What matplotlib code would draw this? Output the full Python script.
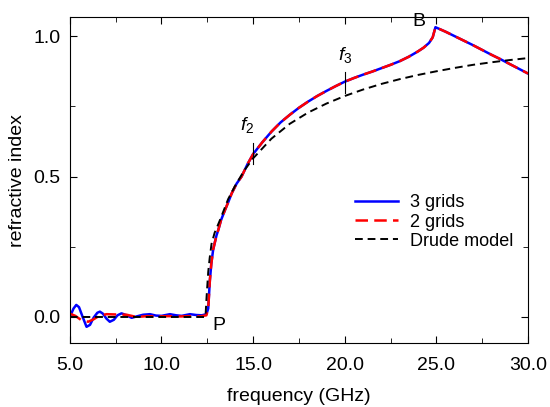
import matplotlib
matplotlib.use("Agg")
import matplotlib.pyplot as plt
from matplotlib.ticker import MultipleLocator, FormatStrFormatter

plt.rcParams['font.family'] = ['Liberation Sans', 'DejaVu Sans']
plt.rcParams['mathtext.fontset'] = 'custom'
plt.rcParams['mathtext.it'] = 'Liberation Sans:italic'
plt.rcParams['mathtext.rm'] = 'Liberation Sans'

# below-cutoff ripple, 3 grids
f_low3 = [5.0, 5.2, 5.35, 5.5, 5.7, 5.91, 6.1, 6.3, 6.5, 6.64, 6.8, 7.0, 7.18,
          7.4, 7.6, 7.82, 8.1, 8.37, 8.7, 9.0, 9.37, 9.7, 10.0, 10.46, 10.8,
          11.1, 11.55, 11.9, 12.2, 12.45]
n_low3 = [0.0, 0.03, 0.043, 0.035, 0.0, -0.035, -0.028, -0.002, 0.015, 0.019,
          0.012, -0.006, -0.017, -0.01, 0.006, 0.013, 0.006, -0.003, 0.003,
          0.008, 0.01, 0.005, 0.004, 0.01, 0.006, 0.004, 0.01, 0.007, 0.006,
          0.01]

# below-cutoff ripple, 2 grids
f_low2 = [5.0, 5.3, 5.6, 6.0, 6.3, 6.6, 7.0, 7.5, 8.1, 8.64, 9.2, 9.8, 10.4,
          11.0, 11.6, 12.1, 12.45]
n_low2 = [0.012, 0.004, -0.01, -0.017, -0.008, 0.004, 0.01, 0.009, 0.008,
          0.0, 0.003, 0.002, 0.003, 0.002, 0.003, 0.002, 0.006]

# above cutoff (both meshes agree)
f_high = [12.55, 12.64, 12.72, 12.82, 13.0, 13.1, 13.25, 13.46, 13.65, 13.83,
          14.1, 14.37, 14.7, 15.0, 15.5, 16.0, 16.5, 17.0, 17.5, 18.0, 18.5,
          19.0, 19.5, 20.0, 20.5, 21.0, 21.5, 22.0, 22.5, 23.0, 23.5, 24.0,
          24.3, 24.6, 24.8, 24.95, 25.5, 26.0, 26.5, 27.0, 27.5, 28.0, 28.5,
          29.0, 29.5, 30.0]
n_high = [0.03, 0.13, 0.19, 0.24, 0.29, 0.31, 0.345, 0.38, 0.41, 0.44, 0.475,
          0.50, 0.545, 0.58, 0.622, 0.66, 0.693, 0.72, 0.745, 0.767, 0.787,
          0.805, 0.822, 0.838, 0.851, 0.863, 0.874, 0.886, 0.898, 0.911, 0.927,
          0.946, 0.959, 0.976, 0.996, 1.032, 1.016, 1.0, 0.984, 0.968, 0.951,
          0.934, 0.918, 0.901, 0.884, 0.867]

# Drude model
f_drude = [5.0, 8.0, 10.0, 12.4, 12.46, 12.55, 12.63, 12.73, 12.9, 13.0, 13.19,
           13.4, 13.64, 14.0, 14.5, 15.0, 16.0, 17.0, 18.0, 19.0, 20.0, 21.0,
           22.0, 23.0, 24.0, 25.0, 26.0, 27.0, 28.0, 29.0, 30.0]
n_drude = [0.0, 0.0, 0.0, 0.0, 0.07, 0.16, 0.21, 0.26, 0.30, 0.315, 0.345,
           0.38, 0.42, 0.465, 0.52, 0.565, 0.635, 0.688, 0.728, 0.76, 0.787,
           0.81, 0.83, 0.847, 0.862, 0.875, 0.887, 0.898, 0.907, 0.915, 0.922]

fig = plt.figure(figsize=(5.5, 4.07), dpi=100)
ax = fig.add_axes([0.127, 0.157, 0.833, 0.801])

ax.plot(f_low3 + f_high, n_low3 + n_high, color='#0000ff', lw=1.8, label='3 grids')
ax.plot(f_low2 + f_high, n_low2 + n_high, color='#ff0000', lw=1.8,
        dashes=(5, 2.5), label='2 grids')
ax.plot(f_drude, n_drude, color='black', lw=1.4, dashes=(4, 2.5),
        label='Drude model')

# markers for f2 and f3
for fm, nm in [(15.0, 0.585), (20.0, 0.838)]:
    ax.plot([fm, fm], [nm - 0.04, nm + 0.035], color='black', lw=0.8)
ax.text(14.7, 0.665, r'$f_2$', fontsize=14, ha='center')
ax.text(20.0, 0.915, r'$f_3$', fontsize=14, ha='center')
ax.text(12.75, -0.045, 'P', fontsize=14)
ax.text(23.7, 1.035, 'B', fontsize=14)

ax.set_xlim(5.0, 30.0)
ax.set_ylim(-0.093, 1.068)
ax.xaxis.set_major_locator(MultipleLocator(5))
ax.xaxis.set_minor_locator(MultipleLocator(2.5))
ax.yaxis.set_major_locator(MultipleLocator(0.5))
ax.yaxis.set_minor_locator(MultipleLocator(0.25))
ax.xaxis.set_major_formatter(FormatStrFormatter('%.1f'))
ax.yaxis.set_major_formatter(FormatStrFormatter('%.1f'))
ax.tick_params(which='both', direction='in', top=True, right=True, labelsize=14)
ax.tick_params(which='major', length=5)
ax.tick_params(which='minor', length=3.5)
ax.tick_params(axis='x', pad=10)
ax.tick_params(axis='y', pad=7)

ax.set_xlabel('frequency (GHz)', fontsize=14, labelpad=10)
ax.set_ylabel('refractive index', fontsize=14, labelpad=5)

ax.legend(loc='center left', bbox_to_anchor=(0.622, 0.371), frameon=False,
          fontsize=13, handlelength=2.4, handletextpad=0.67, labelspacing=0.12,
          borderpad=0, borderaxespad=0)

fig.savefig('out.png', dpi=100)
